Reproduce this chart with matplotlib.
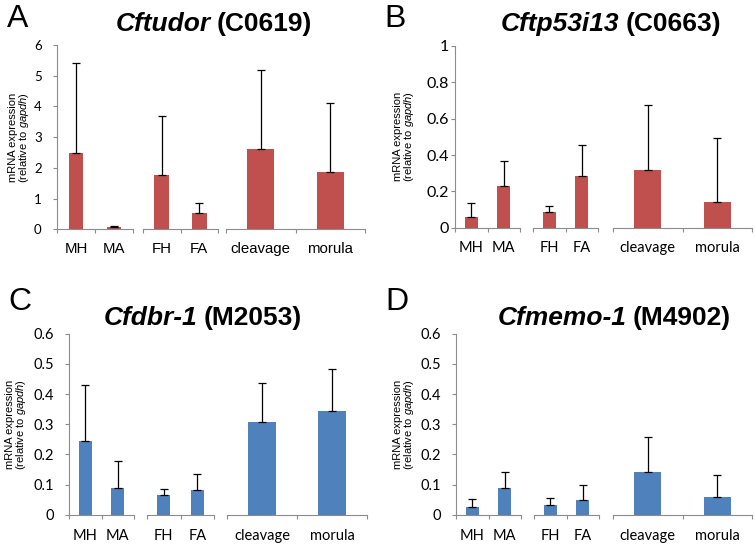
import matplotlib
matplotlib.use("Agg")
import matplotlib.pyplot as plt
import numpy as np

plt.rcParams['mathtext.fontset'] = 'custom'
plt.rcParams['mathtext.rm'] = 'Liberation Sans'
plt.rcParams['mathtext.it'] = 'Liberation Sans:italic'

# ---------------- data ----------------
groups = [["MH", "MA"], ["FH", "FA"], ["cleavage", "morula"]]

genes = ["Cftudor", "Cftp53i13", "Cfdbr-1", "Cfmemo-1"]
codes = ["C0619", "C0663", "M2053", "M4902"]
letters = ["A", "B", "C", "D"]

# means (MH, MA, FH, FA, cleavage, morula)
mean_A = [2.49, 0.065, 1.77, 0.52, 2.62, 1.86]
mean_B = [0.057, 0.231, 0.086, 0.285, 0.318, 0.14]
mean_C = [0.244, 0.0885, 0.066, 0.082, 0.307, 0.345]
mean_D = [0.027, 0.087, 0.033, 0.048, 0.14, 0.06]

# top of error bars
top_A = [5.43, 0.12, 3.68, 0.85, 5.2, 4.11]
top_B = [0.134, 0.367, 0.122, 0.455, 0.674, 0.492]
top_C = [0.429, 0.177, 0.086, 0.134, 0.437, 0.483]
top_D = [0.052, 0.143, 0.057, 0.099, 0.258, 0.131]

yticks_A = [0, 1, 2, 3, 4, 5, 6]
yticks_B = [0, 0.2, 0.4, 0.6, 0.8, 1.0]
yticks_CD = [0, 0.1, 0.2, 0.3, 0.4, 0.5, 0.6]
ylabels_A = ["0", "1", "2", "3", "4", "5", "6"]
ylabels_B = ["0", "0.2", "0.4", "0.6", "0.8", "1"]
ylabels_CD = ["0", "0.1", "0.2", "0.3", "0.4", "0.5", "0.6"]

RED = "#C0504D"
BLUE = "#4F81BD"
AXC = "#8C8C8C"

W, H = 755, 545
fig = plt.figure(figsize=(W / 100, H / 100), dpi=100)


def box(x0, x1, ytop, ybot):
    return [x0 / W, 1 - ybot / H, (x1 - x0) / W, (ybot - ytop) / H]


panels = [
    dict(means=mean_A, tops=top_A, yt=yticks_A, yl=ylabels_A, color=RED,
         ytop=45, ybot=229.3, gx=[(57, 133), (143, 218), (226, 365)],
         ysize=9.5, ypad=8, xfont="Liberation Sans", xsize=10.8, xpad=6.5,
         title=(214, 24), letter=(18, 19), ylab=(12.5, 24)),
    dict(means=mean_B, tops=top_B, yt=yticks_B, yl=ylabels_B, color=RED,
         ytop=46, ybot=227.7, gx=[(455, 520), (533, 598), (613, 752)],
         ysize=11.5, ypad=1.5, xfont="Lato", xsize=10.5, xpad=6.5,
         title=(611, 24), letter=(395, 19), ylab=(398, 409.5)),
    dict(means=mean_C, tops=top_C, yt=yticks_CD, yl=ylabels_CD, color=BLUE,
         ytop=333.7, ybot=514.7, gx=[(69, 134), (147, 214), (227, 367)],
         ysize=10.5, ypad=8, xfont="Lato", xsize=10.5, xpad=7,
         title=(203, 318), letter=(20, 302), ylab=(10, 21.5)),
    dict(means=mean_D, tops=top_D, yt=yticks_CD, yl=ylabels_CD, color=BLUE,
         ytop=333.7, ybot=514.7, gx=[(456, 521), (534, 599), (613, 752)],
         ysize=10.5, ypad=8, xfont="Lato", xsize=10.5, xpad=7,
         title=(614, 318), letter=(397, 302), ylab=(398, 409.5)),
]

renderer = fig.canvas.get_renderer()

for pi, p in enumerate(panels):
    ymax = p["yt"][-1]
    for gi, (x0, x1) in enumerate(p["gx"]):
        ax = fig.add_axes(box(x0, x1, p["ytop"], p["ybot"]))
        sl = slice(2 * gi, 2 * gi + 2)
        vals = np.array(p["means"][sl])
        tops = np.array(p["tops"][sl])
        xs = np.arange(len(groups[gi]))
        ax.bar(xs, vals, width=0.39, color=p["color"], zorder=2)
        ax.errorbar(xs, vals, yerr=[np.zeros_like(vals), tops - vals], fmt='none',
                    ecolor='black', elinewidth=0.9, capsize=2.6, capthick=0.9, zorder=3)
        ax.set_xlim(-0.5, 1.5)
        ax.set_ylim(0, ymax)
        for s in ["top", "right"]:
            ax.spines[s].set_visible(False)
        ax.spines["bottom"].set_color(AXC)
        ax.spines["bottom"].set_linewidth(0.8)
        ax.set_xticks([-0.5, 0.5, 1.5])
        ax.set_xticklabels([])
        ax.set_xticks(xs, minor=True)
        ax.set_xticklabels(groups[gi], minor=True, family=p["xfont"], fontsize=p["xsize"])
        ax.tick_params(axis='x', which='major', length=3, width=0.8, color=AXC, direction='out')
        ax.tick_params(axis='x', which='minor', length=0, pad=p["xpad"] + 3)
        if gi == 0:
            ax.spines["left"].set_color(AXC)
            ax.spines["left"].set_linewidth(0.8)
            ax.set_yticks(p["yt"])
            ax.set_yticklabels(p["yl"], family="Lato", fontsize=p["ysize"])
            ax.tick_params(axis='y', length=3, width=0.8, color=AXC, direction='out',
                           pad=p["ypad"])
        else:
            ax.spines["left"].set_visible(False)
            ax.set_yticks([])
        ax.patch.set_alpha(0)

    # y label (two lines)
    yc = (p["ytop"] + p["ybot"]) / 2
    fig.text(p["ylab"][0] / W, 1 - yc / H, "mRNA expression", rotation=90,
             ha='center', va='center', family="Liberation Sans", fontsize=8.0)
    fig.text(p["ylab"][1] / W, 1 - yc / H, r"(relative to $\mathit{gapdh}$)", rotation=90,
             ha='center', va='center', family="Liberation Sans", fontsize=8.0)

    # panel letter
    fig.text(p["letter"][0] / W, 1 - p["letter"][1] / H, letters[pi], ha='center', va='center',
             family="Liberation Sans", fontsize=23)

    # title: italic bold gene + bold code
    tsize = 19
    cx, cy = p["title"]
    t1 = fig.text(0, 1 - cy / H, genes[pi], ha='left', va='center', family="Liberation Sans",
                  fontweight='bold', fontstyle='italic', fontsize=tsize)
    t2 = fig.text(0, 1 - cy / H, "(" + codes[pi] + ")", ha='left', va='center',
                  family="Liberation Sans", fontweight='bold', fontsize=tsize)
    w1 = t1.get_window_extent(renderer).width
    w2 = t2.get_window_extent(renderer).width
    gap = tsize * 100 / 72 * 0.22
    start = cx - (w1 + gap + w2) / 2
    t1.set_x(start / W)
    t2.set_x((start + w1 + gap) / W)

fig.savefig("out.png", dpi=100)
